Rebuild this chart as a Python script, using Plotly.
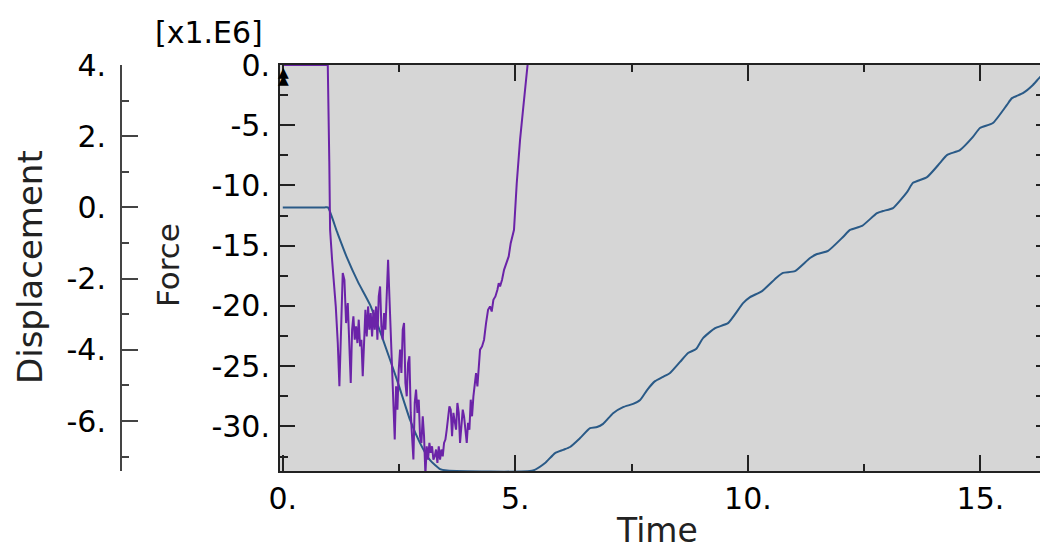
import plotly.graph_objects as go

# ---------------- data ----------------
# Displacement history (blue), time vs displacement
disp_time = [0.0, 0.5, 0.9, 0.97, 1.167, 1.382, 1.619, 1.877, 2.156, 2.457, 2.736, 2.951, 3.166, 3.381, 3.532,
             5.38, 5.639, 5.854, 6.026, 6.176, 6.391, 6.606, 6.757, 6.886, 7.101, 7.316, 7.531, 7.682,
             7.832, 8.004, 8.176, 8.326, 8.541, 8.713, 8.885, 9.036, 9.294, 9.573, 9.896, 10.046,
             10.304, 10.626, 10.755, 11.013, 11.336, 11.486, 11.723, 12.045, 12.196, 12.454, 12.776,
             12.905, 13.120, 13.421, 13.550, 13.851, 14.131, 14.279, 14.559, 14.838, 14.989, 15.268,
             15.569, 15.677, 15.913, 16.128, 16.279, 16.49]
disp_vals = [0.0, 0.0, 0.0, 0.0, -0.69, -1.42, -2.10, -2.74, -3.72, -4.85, -5.97, -6.62, -7.10, -7.35, -7.39,
             -7.39, -7.18, -6.90, -6.81, -6.73, -6.48, -6.20, -6.17, -6.08, -5.78, -5.61, -5.52, -5.41,
             -5.13, -4.88, -4.76, -4.65, -4.34, -4.09, -3.98, -3.67, -3.39, -3.25, -2.69, -2.52,
             -2.35, -1.96, -1.84, -1.79, -1.42, -1.31, -1.22, -0.83, -0.63, -0.52, -0.16,
             -0.10, -0.02, 0.43, 0.69, 0.85, 1.25, 1.47, 1.61, 1.98, 2.23, 2.37,
             2.88, 3.07, 3.21, 3.44, 3.66, 3.92]

# Force history (purple), time vs force [x1.E6]
force_time = [0.0, 0.967, 1.0, 1.017, 1.060, 1.088, 1.139, 1.182, 1.217, 1.253, 1.289, 1.325, 1.361,
              1.397, 1.432, 1.461, 1.490, 1.518, 1.547, 1.576, 1.604, 1.633, 1.662, 1.690, 1.719,
              1.748, 1.776, 1.805, 1.834, 1.862, 1.891, 1.920, 1.948, 1.977, 2.006, 2.034, 2.063,
              2.092, 2.120, 2.149, 2.178, 2.206, 2.235, 2.264, 2.292, 2.321, 2.350, 2.378, 2.407,
              2.436, 2.464, 2.493, 2.522, 2.550, 2.579, 2.607, 2.636, 2.665, 2.693, 2.722, 2.751,
              2.779, 2.808, 2.837, 2.865, 2.894, 2.923, 2.951, 2.980, 3.009, 3.037, 3.066, 3.095,
              3.123, 3.152, 3.181, 3.209, 3.238, 3.267, 3.295, 3.324, 3.353, 3.381, 3.410, 3.439,
              3.467, 3.496, 3.525, 3.553, 3.582, 3.611, 3.639, 3.668, 3.697, 3.725, 3.754, 3.783,
              3.811, 3.840, 3.869, 3.897, 3.926, 3.955, 3.983, 4.012, 4.041, 4.069, 4.098, 4.127,
              4.155, 4.184, 4.213, 4.241, 4.284, 4.327, 4.370, 4.413, 4.456, 4.492, 4.528, 4.571,
              4.614, 4.643, 4.671, 4.714, 4.757, 4.814, 4.857, 4.900, 4.943, 4.971, 5.030, 5.101,
              5.172, 5.245, 5.295, 5.40]
force_vals = [0.0, 0.0, -8.0, -13.68, -16.17, -17.55, -20.04, -23.08, -26.67, -21.97, -17.27, -17.83, -21.42,
              -19.76, -22.80, -26.40, -21.97, -20.87, -22.80, -21.70, -23.08, -21.14, -23.36, -22.80, -25.84,
              -21.97, -20.32, -22.53, -20.04, -21.97, -20.59, -22.53, -20.32, -21.97, -20.04, -22.80, -19.21,
              -18.38, -21.70, -22.80, -20.59, -21.97, -18.66, -16.17, -19.21, -22.25, -24.18, -28.05, -31.09,
              -26.67, -28.61, -25.29, -23.63, -25.57, -21.97, -21.42, -26.40, -27.50, -24.74, -24.18, -28.88,
              -30.82, -32.75, -28.05, -26.95, -28.88, -27.78, -30.82, -31.37, -29.16, -30.82, -34.0, -31.65,
              -32.75, -31.37, -32.20, -31.65, -32.75, -32.48, -31.92, -33.03, -31.65, -32.75, -31.92, -32.48,
              -31.37, -31.09, -30.27, -29.16, -28.33, -28.61, -30.82, -28.88, -29.71, -30.27, -28.05, -28.88,
              -31.37, -30.27, -28.61, -29.16, -30.27, -31.37, -29.71, -30.27, -27.78, -29.16, -27.50, -26.67,
              -25.57, -26.67, -25.29, -23.63, -23.36, -22.80, -21.42, -20.32, -20.04, -20.46, -19.49, -19.21,
              -18.66, -18.11, -18.38, -17.83, -17.00, -16.45, -15.89, -14.79, -13.96, -13.68, -9.81, -6.22,
              -3.46, -0.14, 1.24, 3.0]

# Tick labels
time_ticks = [0, 5, 10, 15]
time_labels = ["0.", "5.", "10.", "15."]
force_ticks = [0, -5, -10, -15, -20, -25, -30]
force_labels = ["0.", "-5.", "-10.", "-15.", "-20.", "-25.", "-30."]
disp_ticks = [4, 2, 0, -2, -4, -6]
disp_labels = ["4.", "2.", "0.", "-2.", "-4.", "-6."]

# ---------------- figure ----------------
W, H = 1040, 550
FONT = "DejaVu Sans"
AX = "#222222"

fig = go.Figure()
fig.add_trace(go.Scatter(x=disp_time, y=disp_vals, mode="lines", yaxis="y",
                         line=dict(color="#2a5a87", width=2, shape="spline", smoothing=0.5),
                         name="Displacement"))
fig.add_trace(go.Scatter(x=force_time, y=force_vals, mode="lines", yaxis="y2",
                         line=dict(color="#6b23a8", width=2), name="Force"))
# invisible trace so the right-side tick axis is drawn
fig.add_trace(go.Scatter(x=[None], y=[None], yaxis="y3", showlegend=False, hoverinfo="skip"))

y_dom = [(H - 471) / H, (H - 65) / H]
x_left = 280 / W

fig.update_layout(
    width=W, height=H,
    margin=dict(l=0, r=0, t=0, b=0, autoexpand=False),
    paper_bgcolor="white",
    plot_bgcolor="#d6d6d6",
    showlegend=False,
    font=dict(family=FONT, color="black", size=28),
    xaxis=dict(
        domain=[x_left, 1.0], range=[-0.06, 16.28], anchor="y2", automargin=False,
        tickmode="array", tickvals=time_ticks, ticktext=time_labels,
        ticks="inside", ticklen=16, tickwidth=2, tickcolor=AX,
        minor=dict(dtick=2.5, tick0=0, ticks="inside", ticklen=7, tickwidth=2, tickcolor=AX),
        showline=True, linecolor=AX, linewidth=2, mirror="ticks",
        showgrid=False, zeroline=False,
        tickfont=dict(family=FONT, size=30, color="black"), ticklabelstandoff=0,
    ),
    yaxis=dict(
        domain=y_dom, range=[-7.404, 4.0], anchor="free", position=121 / W, side="left",
        automargin=False,
        tickmode="array", tickvals=disp_ticks, ticktext=disp_labels,
        ticks="inside", ticklen=16, tickwidth=2, tickcolor="#444444",
        minor=dict(dtick=1, tick0=0, ticks="inside", ticklen=7, tickwidth=2, tickcolor="#444444"),
        showline=True, linecolor="#444444", linewidth=2,
        showgrid=False, zeroline=False,
        tickfont=dict(family=FONT, size=30, color="black"), ticklabelstandoff=8,
    ),
    yaxis2=dict(
        domain=y_dom, range=[-33.7, 0.0], anchor="x", overlaying="y", side="left",
        automargin=False,
        tickmode="array", tickvals=force_ticks, ticktext=force_labels,
        ticks="inside", ticklen=15, tickwidth=2, tickcolor=AX,
        minor=dict(dtick=2.5, tick0=0, ticks="inside", ticklen=8, tickwidth=2, tickcolor=AX),
        showline=True, linecolor=AX, linewidth=2,
        showgrid=False, zeroline=False,
        tickfont=dict(family=FONT, size=30, color="black"), ticklabelstandoff=2,
    ),
    yaxis3=dict(
        domain=y_dom, range=[-33.7, 0.0], anchor="x", overlaying="y", side="right",
        automargin=False,
        tickmode="array", tickvals=force_ticks, ticktext=[""] * len(force_ticks),
        ticks="inside", ticklen=8, tickwidth=2, tickcolor=AX,
        minor=dict(dtick=2.5, tick0=0, ticks="inside", ticklen=4, tickwidth=2, tickcolor=AX),
        showline=False, showgrid=False, zeroline=False, showticklabels=False,
    ),
    annotations=[
        dict(text="[x1.E6]", x=209 / W, y=1 - 32 / H, xref="paper", yref="paper",
             showarrow=False, font=dict(family=FONT, size=30, color="black"),
             xanchor="center", yanchor="middle"),
        dict(text="Displacement", x=30 / W, y=1 - 267 / H, xref="paper", yref="paper",
             showarrow=False, textangle=-90, font=dict(family=FONT, size=34, color="#222222"),
             xanchor="center", yanchor="middle"),
        dict(text="Force", x=168 / W, y=1 - 265 / H, xref="paper", yref="paper",
             showarrow=False, textangle=-90, font=dict(family=FONT, size=31, color="#222222"),
             xanchor="center", yanchor="middle"),
        dict(text="Time", x=657 / W, y=1 - 530 / H, xref="paper", yref="paper",
             showarrow=False, font=dict(family=FONT, size=33, color="#222222"),
             xanchor="center", yanchor="middle"),
        dict(text="▲", x=283 / W, y=1 - 72 / H, xref="paper", yref="paper",
             showarrow=False, font=dict(family=FONT, size=14, color="black"),
             xanchor="center", yanchor="middle"),
        dict(text="▲", x=283 / W, y=1 - 79 / H, xref="paper", yref="paper",
             showarrow=False, font=dict(family=FONT, size=14, color="black"),
             xanchor="center", yanchor="middle"),
    ],
)

fig.write_html("out.html",
               config={"displayModeBar": False},
               post_script="document.body.style.margin='0px';document.body.style.overflow='hidden';")
